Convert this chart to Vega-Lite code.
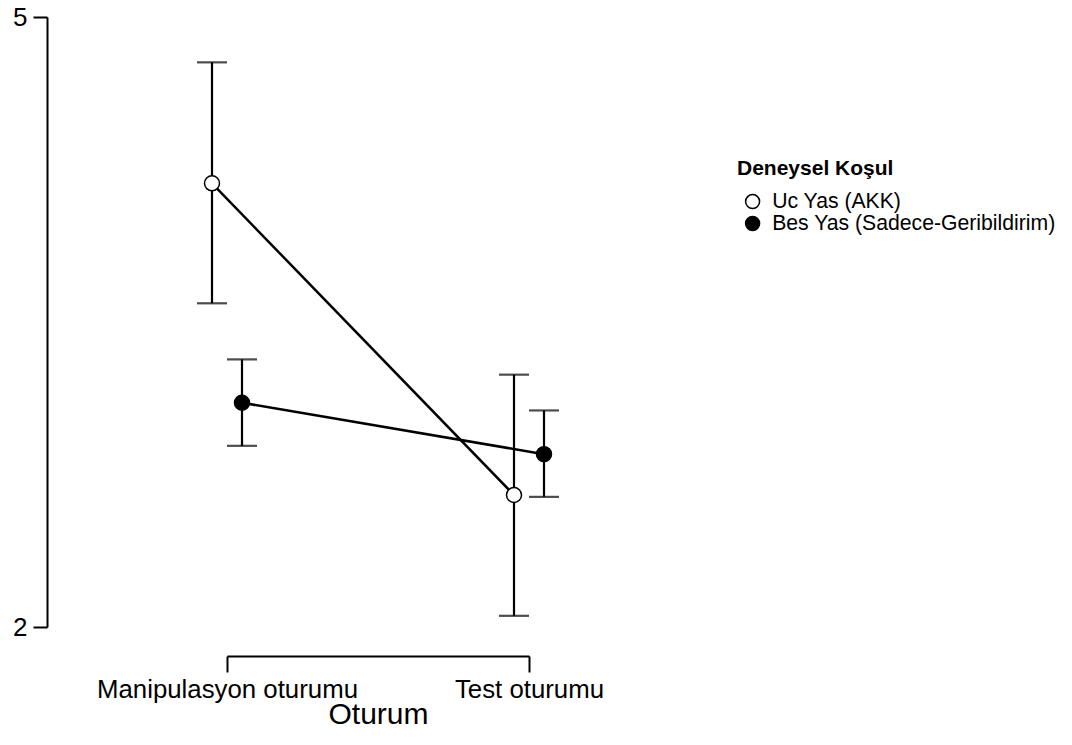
{
  "$schema": "https://vega.github.io/schema/vega-lite/v6.json",
  "width": 302,
  "height": 610,
  "autosize": {"type": "none"},
  "padding": {"left": 227, "top": 17, "right": 543, "bottom": 118},
  "background": "white",
  "config": {
    "view": {"stroke": null},
    "font": "Liberation Sans",
    "axis": {"grid": false, "domainColor": "black", "tickColor": "black", "domainWidth": 2, "tickWidth": 2, "labelColor": "black", "titleColor": "black", "labelFont": "Liberation Sans", "titleFont": "Liberation Sans", "labelLimit": 0},
    "legend": {"titleFont": "Liberation Sans", "labelFont": "Liberation Sans", "labelLimit": 0}
  },
  "data": {
    "values": [
      {"oturum": "Manipulasyon oturumu", "kosul": "Uc Yas (AKK)", "mean": 4.182, "lower": 3.592, "upper": 4.777},
      {"oturum": "Manipulasyon oturumu", "kosul": "Bes Yas (Sadece-Geribildirim)", "mean": 3.103, "lower": 2.891, "upper": 3.316},
      {"oturum": "Test oturumu", "kosul": "Uc Yas (AKK)", "mean": 2.649, "lower": 2.055, "upper": 3.241},
      {"oturum": "Test oturumu", "kosul": "Bes Yas (Sadece-Geribildirim)", "mean": 2.850, "lower": 2.640, "upper": 3.065}
    ]
  },
  "encoding": {
    "x": {
      "field": "oturum", "type": "nominal",
      "scale": {"type": "point", "padding": 0, "domain": ["Manipulasyon oturumu", "Test oturumu"]},
      "axis": {"title": "Oturum", "labelAngle": 0, "labelFontSize": 25.8, "titleFontSize": 30, "titleFontWeight": "normal", "offset": 29, "tickSize": 16, "labelPadding": 5, "titlePadding": -2, "labelOverlap": false, "labelFlush": false, "labelLimit": 0}
    },
    "xOffset": {
      "field": "kosul", "type": "nominal",
      "scale": {"type": "point", "padding": 0, "domain": ["Uc Yas (AKK)", "Bes Yas (Sadece-Geribildirim)"], "range": [-15, 15]}
    }
  },
  "layer": [
    {
      "mark": {"type": "rule", "color": "black", "strokeWidth": 2.2},
      "encoding": {
        "y": {"field": "lower", "type": "quantitative", "scale": {"domain": [2, 5], "nice": false, "zero": false},
          "axis": {"title": null, "values": [2, 5], "format": "d", "labelFontSize": 26, "offset": 180, "tickSize": 14, "labelPadding": 6}},
        "y2": {"field": "upper"}
      }
    },
    {
      "mark": {"type": "tick", "color": "black", "thickness": 2.2, "size": 30, "orient": "horizontal"},
      "encoding": {"y": {"field": "lower", "type": "quantitative"}}
    },
    {
      "mark": {"type": "tick", "color": "black", "thickness": 2.2, "size": 30, "orient": "horizontal"},
      "encoding": {"y": {"field": "upper", "type": "quantitative"}}
    },
    {
      "mark": {"type": "line", "color": "black", "strokeWidth": 2.5},
      "encoding": {
        "y": {"field": "mean", "type": "quantitative"},
        "detail": {"field": "kosul", "type": "nominal"}
      }
    },
    {
      "mark": {"type": "point", "shape": "circle", "filled": true, "size": 225, "stroke": "black", "strokeWidth": 1.5, "opacity": 1},
      "encoding": {
        "y": {"field": "mean", "type": "quantitative"},
        "fill": {
          "field": "kosul", "type": "nominal",
          "scale": {"domain": ["Uc Yas (AKK)", "Bes Yas (Sadece-Geribildirim)"], "range": ["white", "black"]},
          "legend": {"title": "Deneysel Koşul", "orient": "none", "legendX": 510, "legendY": 141, "titleFontSize": 21, "titleFontWeight": "bold", "titleColor": "black", "labelFontSize": 21.2, "labelColor": "black", "labelLimit": 0, "symbolType": "circle", "symbolSize": 196, "symbolStrokeColor": "black", "symbolStrokeWidth": 1.5, "symbolOffset": 5, "labelOffset": 9, "rowPadding": 0, "titlePadding": 12}
        }
      }
    }
  ]
}
